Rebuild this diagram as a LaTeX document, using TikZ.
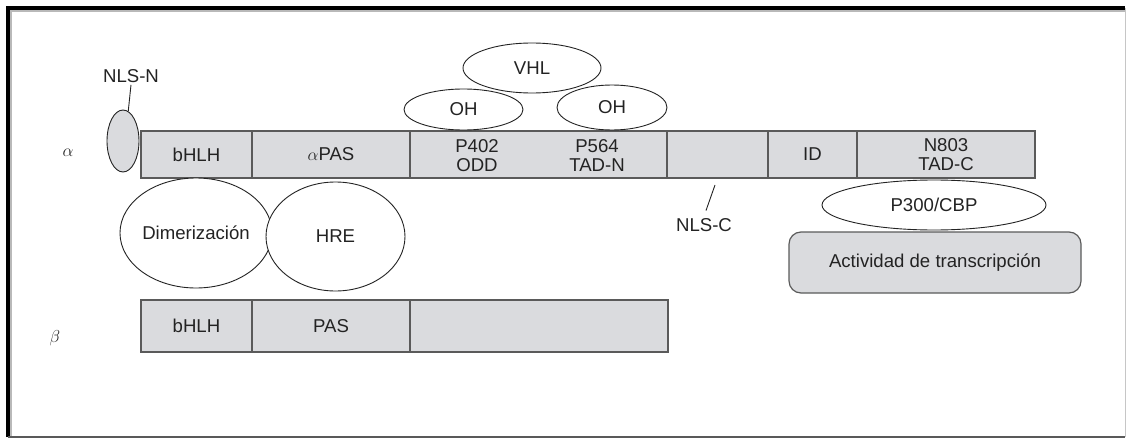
\documentclass[tikz,border=0pt]{standalone}
\usepackage{fontspec}
\setmainfont{Liberation Sans}
\usepackage{xcolor}
\usetikzlibrary{calc,positioning,shapes.geometric}
\definecolor{segfill}{RGB}{218,219,222}
\definecolor{segline}{RGB}{90,90,90}
\definecolor{inkcol}{RGB}{35,35,35}

\begin{document}
\begin{tikzpicture}[x=1pt,y=-1pt,text=inkcol,font=\fontsize{18.6}{19}\selectfont,
  seg/.style={rectangle,draw=segline,fill=segfill,line width=1.4pt,minimum height=47pt,inner sep=0pt,outer sep=0pt,align=center},
  bseg/.style={seg,minimum height=52pt},
  blob/.style={ellipse,draw=inkcol,fill=white,line width=0.9pt,inner sep=0pt},
  lbl/.style={inner sep=2pt}]

  \useasboundingbox (0,0) rectangle (1129,441);
  % frame
  \draw[gray!55,line width=2.5pt] (11,437) -- (11,11) -- (1125,11);
  \draw[line width=4.5pt] (8,437) -- (8,8) -- (1125,8);
  \draw[gray!70!black,line width=2pt] (8,437) -- (1125,437);
  \draw[gray!45,line width=1pt] (1125,8) -- (1125,437);

  % alpha chain
  \node[seg,minimum width=111pt,anchor=west] (abhlh) at (141,154.5) {bHLH};
  \node[seg,minimum width=158pt] (apas) [right=0pt of abhlh] {$\alpha$PAS};
  \node[seg,minimum width=257pt] (aodd) [right=0pt of apas] {};
  \node[seg,minimum width=101pt] (anls) [right=0pt of aodd] {};
  \node[seg,minimum width=89pt] (aid) [right=0pt of anls] {ID};
  \node[seg,minimum width=178pt] (atad) [right=0pt of aid] {N803\\TAD-C};
  \node[align=center] (p402) at (477,155.5) {P402\\ODD};
  \node[align=center] (p564) at (597,155.5) {P564\\TAD-N};

  % beta chain
  \node[bseg,minimum width=111pt,anchor=west] (bbhlh) at (141,326) {bHLH};
  \node[bseg,minimum width=158pt] (bpas) [right=0pt of bbhlh] {PAS};
  \node[bseg,minimum width=258pt] (brest) [right=0pt of bpas] {};

  \node (alab) at (68,153) {$\alpha$};
  \node (blab) at (55,338) {$\beta$};

  \node[blob,fill=segfill,minimum width=32pt,minimum height=62pt] (nlsn) at (123,141) {};
  \node[lbl] (nlsnlab) at (131,76) {NLS-N};
  \draw[inkcol,line width=0.9pt] (nlsnlab.south) -- (nlsn.80);

  \node[blob,minimum width=138pt,minimum height=50pt] (vhl) at (532,68) {VHL};
  \node[blob,minimum width=119pt,minimum height=41pt] (oh1) at (463.5,109.5) {OH};
  \node[blob,minimum width=110pt,minimum height=45pt] (oh2) at (612,107.5) {OH};

  \node[blob,minimum width=140pt,minimum height=110pt] (dim) at (196,233) {Dimerización};
  \node[blob,minimum width=139pt,minimum height=109pt] (hre) at (335.5,236.5) {HRE};

  \node[lbl] (nlsclab) at (704,225) {NLS-C};
  \coordinate (nlsctip) at (715,185);
  \draw[inkcol,line width=0.9pt,shorten <=6pt] (nlsclab.north) -- (nlsctip);

  \node[blob,minimum width=224pt,minimum height=50pt] (p300) at (934,205) {P300/CBP};
  \node[rectangle,rounded corners=12pt,draw=segline,fill=segfill,line width=1.2pt,
        minimum width=292pt,minimum height=61pt] (act) at (935,262.5) {Actividad de transcripción};

\end{tikzpicture}
\end{document}
